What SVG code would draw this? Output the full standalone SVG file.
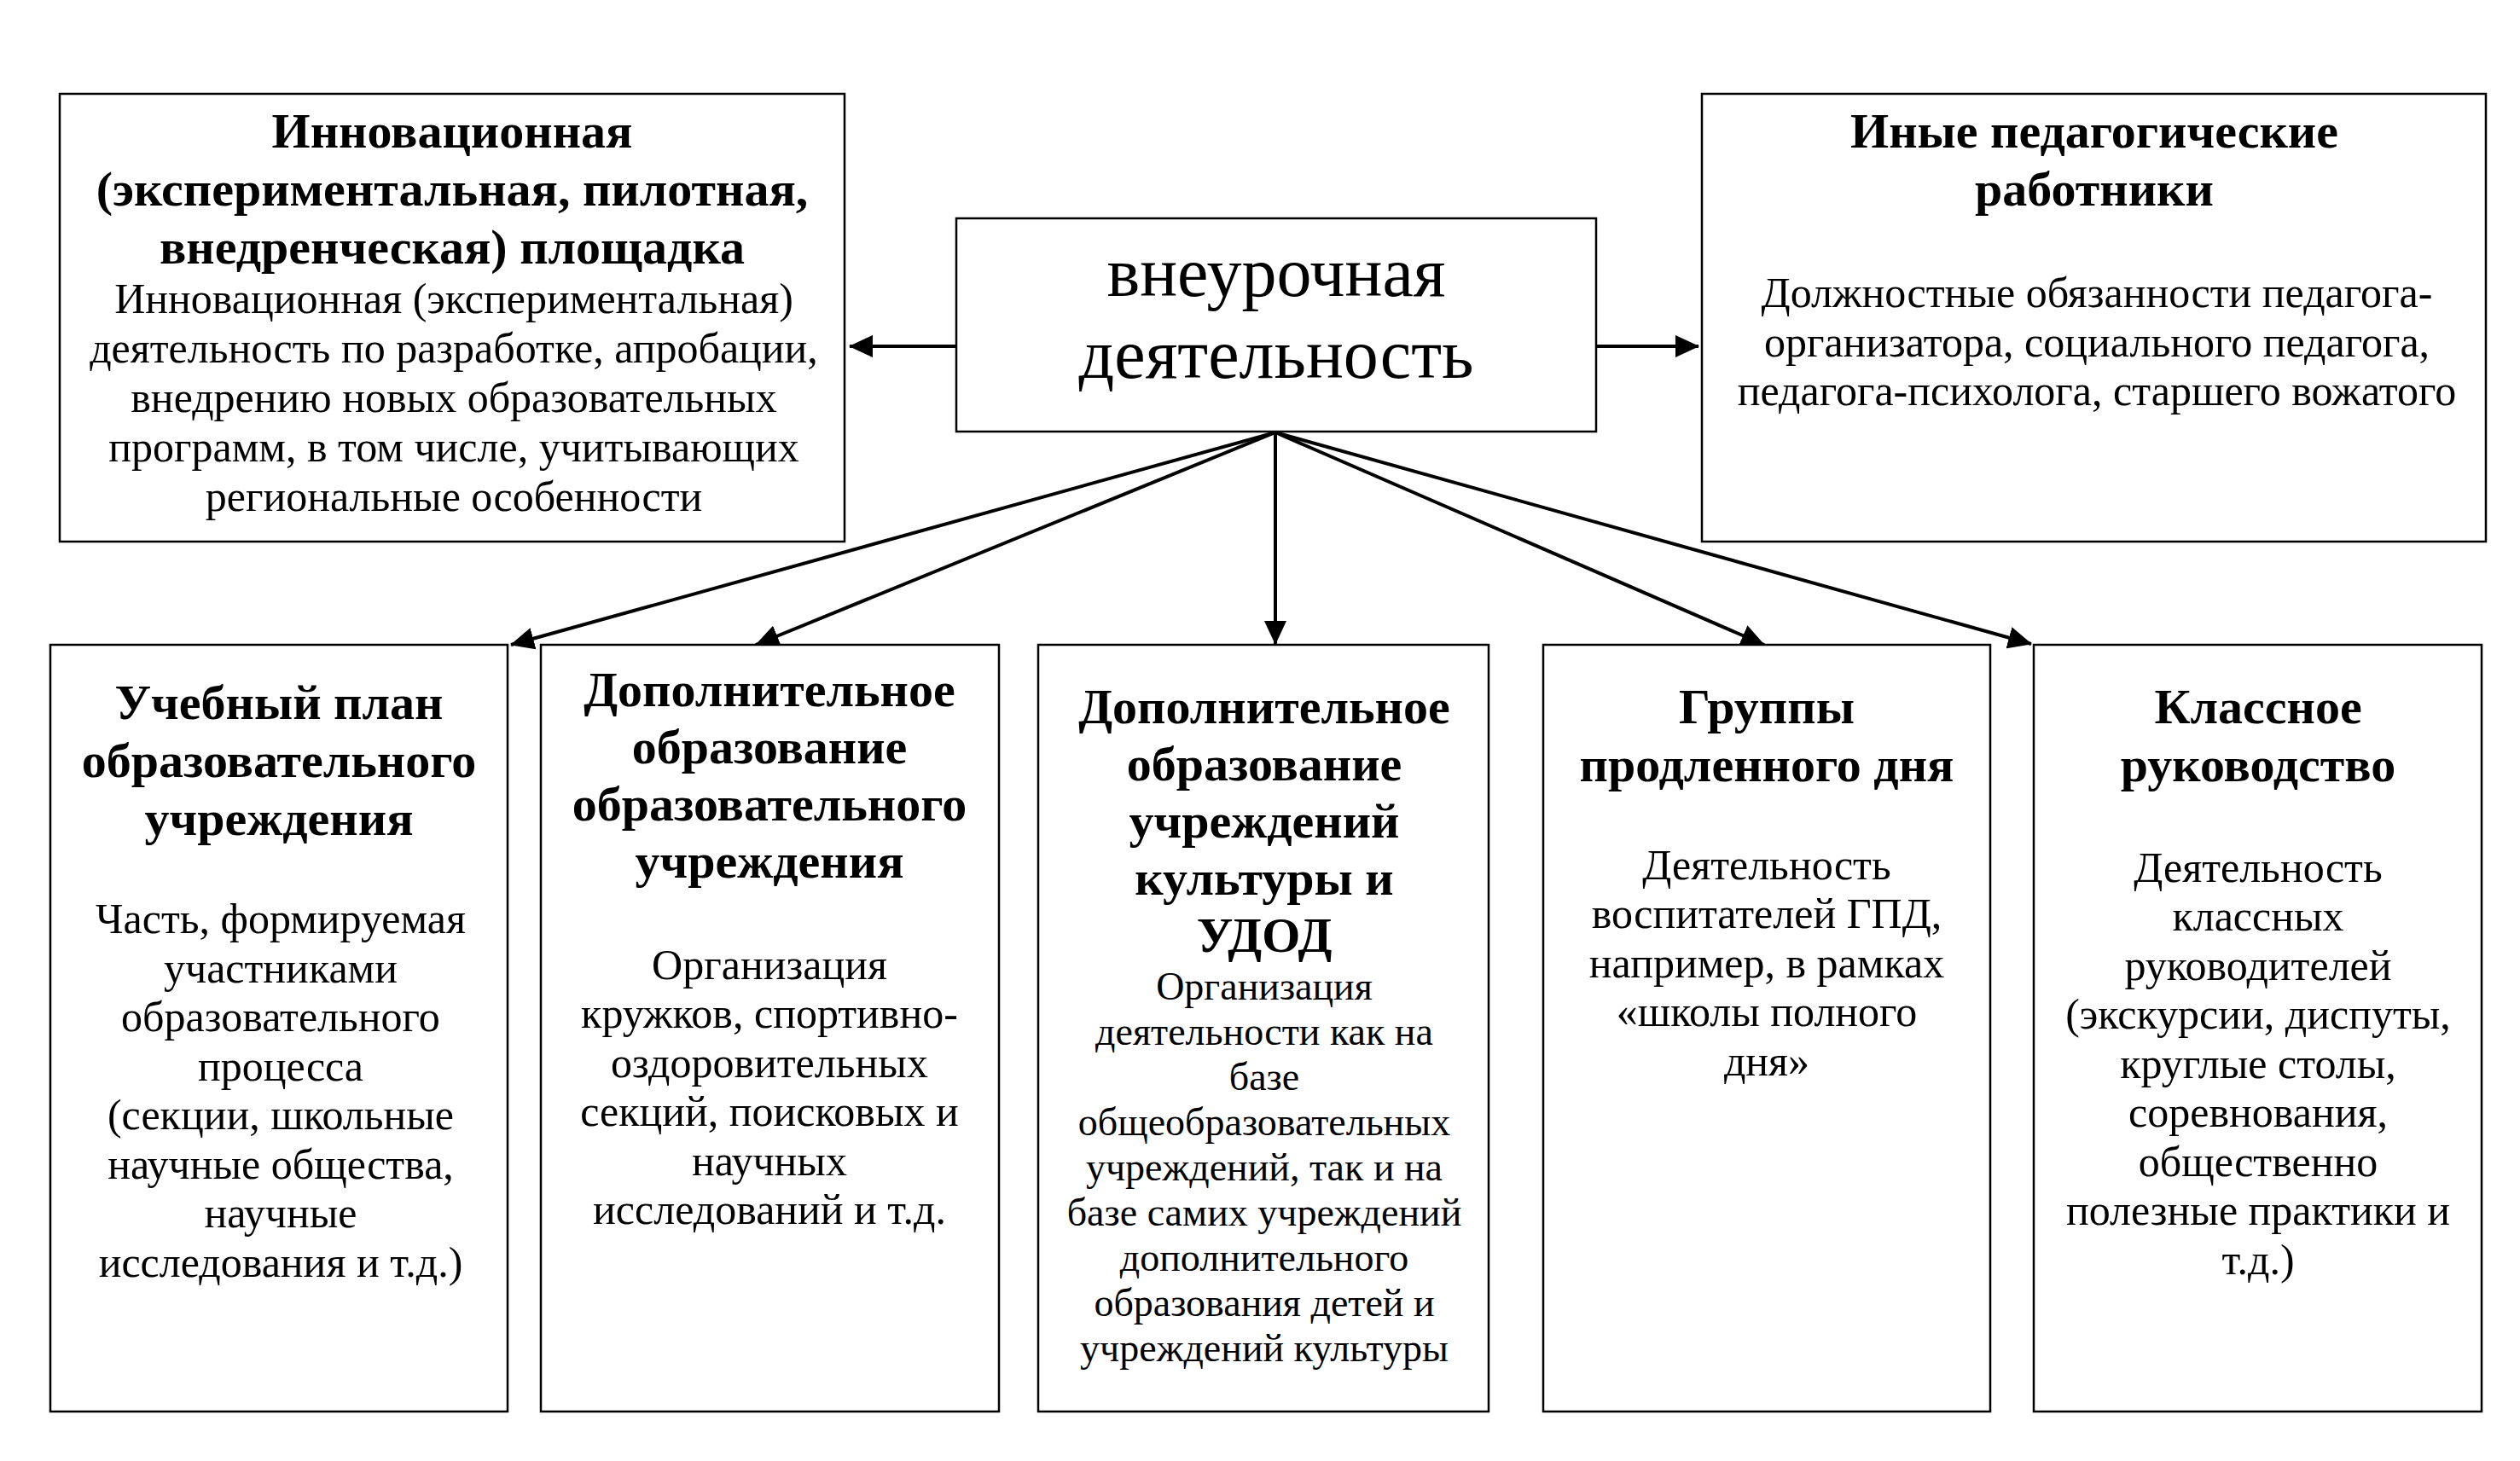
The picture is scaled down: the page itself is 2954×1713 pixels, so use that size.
<svg xmlns="http://www.w3.org/2000/svg" width="2954" height="1713" viewBox="0 0 2954 1713">
<defs>
<style>
.box{fill:#fff;stroke:#000;stroke-width:2.5}
.t{font-family:"Liberation Serif","Times New Roman",serif;font-weight:bold;font-size:58px;text-anchor:middle;fill:#000}
.b{font-family:"Liberation Serif","Times New Roman",serif;font-size:50px;text-anchor:middle;fill:#000}
.bs{font-family:"Liberation Serif","Times New Roman",serif;font-size:46px;text-anchor:middle;fill:#000}
.c{font-family:"Liberation Serif","Times New Roman",serif;font-size:82px;text-anchor:middle;fill:#000}
.ln{stroke:#000;stroke-width:4;fill:none;marker-end:url(#ah)}
</style>
<marker id="ah" markerUnits="userSpaceOnUse" markerWidth="28" markerHeight="26" refX="27" refY="13" orient="auto" viewBox="0 0 28 26">
<path d="M0,0 L28,13 L0,26 Z" fill="#000"/>
</marker>
</defs>
<rect width="2954" height="1713" fill="#fff"/>

<g id="connectors">
<line class="ln" x1="1121" y1="406" x2="996" y2="406"/>
<line class="ln" x1="1871" y1="406" x2="1991" y2="406"/>
<line class="ln" x1="1495" y1="507" x2="599" y2="756"/>
<line class="ln" x1="1495" y1="507" x2="886" y2="756"/>
<line class="ln" x1="1495" y1="507" x2="1495" y2="755"/>
<line class="ln" x1="1495" y1="507" x2="2068" y2="756"/>
<line class="ln" x1="1495" y1="507" x2="2381" y2="755"/>
</g>

<g id="node-center">
<rect class="box" x="1121" y="256" width="750" height="250"/>
<text class="c" x="1496" y="347">внеурочная</text>
<text class="c" x="1496" y="443">деятельность</text>
</g>

<g id="node-innovation">
<rect class="box" x="70" y="110" width="920" height="525"/>
<text class="t" x="530" y="173">Инновационная</text>
<text class="t" x="530" y="241">(экспериментальная, пилотная,</text>
<text class="t" x="530" y="309">внедренческая) площадка</text>
<text class="b" x="532" y="367">Инновационная (экспериментальная)</text>
<text class="b" x="532" y="425">деятельность по разработке, апробации,</text>
<text class="b" x="532" y="483">внедрению новых образовательных</text>
<text class="b" x="532" y="541">программ, в том числе, учитывающих</text>
<text class="b" x="532" y="599">региональные особенности</text>
</g>

<g id="node-other">
<rect class="box" x="1995" y="110" width="919" height="525"/>
<text class="t" x="2455" y="173">Иные педагогические</text>
<text class="t" x="2455" y="241">работники</text>
<text class="b" x="2458" y="360">Должностные обязанности педагога-</text>
<text class="b" x="2458" y="418">организатора, социального педагога,</text>
<text class="b" x="2458" y="475">педагога-психолога, старшего вожатого</text>
</g>

<g id="node-plan">
<rect class="box" x="59" y="756" width="536" height="899"/>
<text class="t" x="327" y="843">Учебный план</text>
<text class="t" x="327" y="911">образовательного</text>
<text class="t" x="327" y="979">учреждения</text>
<text class="b" x="329" y="1094">Часть, формируемая</text>
<text class="b" x="329" y="1152">участниками</text>
<text class="b" x="329" y="1209">образовательного</text>
<text class="b" x="329" y="1267">процесса</text>
<text class="b" x="329" y="1324">(секции, школьные</text>
<text class="b" x="329" y="1382">научные общества,</text>
<text class="b" x="329" y="1439">научные</text>
<text class="b" x="329" y="1497">исследования и т.д.)</text>
</g>

<g id="node-dop-ou">
<rect class="box" x="634" y="756" width="537" height="899"/>
<text class="t" x="902" y="828">Дополнительное</text>
<text class="t" x="902" y="895">образование</text>
<text class="t" x="902" y="962">образовательного</text>
<text class="t" x="902" y="1029">учреждения</text>
<text class="b" x="902" y="1148">Организация</text>
<text class="b" x="902" y="1205">кружков, спортивно-</text>
<text class="b" x="902" y="1263">оздоровительных</text>
<text class="b" x="902" y="1320">секций, поисковых и</text>
<text class="b" x="902" y="1378">научных</text>
<text class="b" x="902" y="1435">исследований и т.д.</text>
</g>

<g id="node-dop-udod">
<rect class="box" x="1217" y="756" width="528" height="899"/>
<text class="t" x="1482" y="848">Дополнительное</text>
<text class="t" x="1482" y="915">образование</text>
<text class="t" x="1482" y="982">учреждений</text>
<text class="t" x="1482" y="1049">культуры и</text>
<text class="t" x="1482" y="1116">УДОД</text>
<text class="bs" x="1482" y="1172">Организация</text>
<text class="bs" x="1482" y="1225">деятельности как на</text>
<text class="bs" x="1482" y="1278">базе</text>
<text class="bs" x="1482" y="1331">общеобразовательных</text>
<text class="bs" x="1482" y="1384">учреждений, так и на</text>
<text class="bs" x="1482" y="1437">базе самих учреждений</text>
<text class="bs" x="1482" y="1490">дополнительного</text>
<text class="bs" x="1482" y="1543">образования детей и</text>
<text class="bs" x="1482" y="1596">учреждений культуры</text>
</g>

<g id="node-gpd">
<rect class="box" x="1809" y="756" width="524" height="899"/>
<text class="t" x="2071" y="848">Группы</text>
<text class="t" x="2071" y="916">продленного дня</text>
<text class="b" x="2071" y="1031">Деятельность</text>
<text class="b" x="2071" y="1088">воспитателей ГПД,</text>
<text class="b" x="2071" y="1146">например, в рамках</text>
<text class="b" x="2071" y="1203">«школы полного</text>
<text class="b" x="2071" y="1261">дня»</text>
</g>

<g id="node-class">
<rect class="box" x="2384" y="756" width="525" height="899"/>
<text class="t" x="2647" y="848">Классное</text>
<text class="t" x="2647" y="916">руководство</text>
<text class="b" x="2647" y="1034">Деятельность</text>
<text class="b" x="2647" y="1091">классных</text>
<text class="b" x="2647" y="1149">руководителей</text>
<text class="b" x="2647" y="1206">(экскурсии, диспуты,</text>
<text class="b" x="2647" y="1264">круглые столы,</text>
<text class="b" x="2647" y="1321">соревнования,</text>
<text class="b" x="2647" y="1379">общественно</text>
<text class="b" x="2647" y="1436">полезные практики и</text>
<text class="b" x="2647" y="1494">т.д.)</text>
</g>
</svg>
